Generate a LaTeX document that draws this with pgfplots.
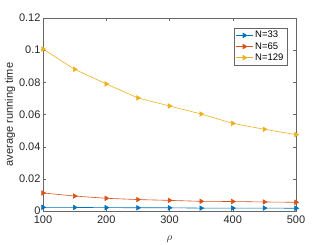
\documentclass[border=0pt]{standalone}
\usepackage{fontspec}
\setmainfont{Liberation Sans}
\usepackage{pgfplots}
\pgfplotsset{compat=1.18}
\definecolor{c1}{rgb}{0,0.447,0.741}
\definecolor{c2}{rgb}{0.85,0.325,0.098}
\definecolor{c3}{rgb}{0.929,0.694,0.125}
\begin{document}
\begin{tikzpicture}
\path[use as bounding box] (-43pt,-34pt) rectangle (284pt,211pt);
\begin{axis}[
  scale only axis, width=253pt, height=193pt,
  xmin=100, xmax=500, ymin=0, ymax=0.12,
  xtick={100,200,300,400,500},
  ytick={0,0.02,0.04,0.06,0.08,0.1,0.12},
  yticklabel style={/pgf/number format/fixed,/pgf/number format/precision=2, xshift=1pt},
  scaled y ticks=false,
  /pgf/number format/assume math mode=true,
  tick align=inside, tick pos=both,
  major tick length=3pt,
  axis line style={black!60, line width=0.4pt},
  tick style={black!60},
  ticklabel style={font=\fontsize{11}{13}\selectfont, text=black!85},
  xticklabel style={yshift=-1.5pt},
  xlabel={$\rho$}, ylabel={average running time},
  label style={font=\fontsize{11}{13}\selectfont, text=black!85},
  xlabel style={yshift=-5pt},
  ylabel style={yshift=-3pt},
  legend style={at={(0.965,0.95)}, anchor=north east, font=\fontsize{9.5}{10.5}\selectfont, draw=black!60, line width=0.4pt, inner sep=1.5pt, row sep=-1pt},
  legend cell align=left,
  every axis plot/.append style={line width=0.6pt, mark=triangle*, mark size=2.6pt},
  every mark/.append style={rotate=-90, solid},
]
\addplot[color=c1, mark options={fill=c1, rotate=-90}] coordinates {(100,0.0023) (150,0.0022) (200,0.0021) (250,0.0020) (300,0.0020) (350,0.0018) (400,0.0018) (450,0.0018) (500,0.0017)};
\addlegendentry{N=33}
\addplot[color=c2, mark options={fill=c2, rotate=-90}] coordinates {(100,0.0112) (150,0.0093) (200,0.0079) (250,0.0071) (300,0.0066) (350,0.0060) (400,0.0059) (450,0.0056) (500,0.0054)};
\addlegendentry{N=65}
\addplot[color=c3, mark options={fill=c3, rotate=-90}] coordinates {(100,0.1007) (150,0.0881) (200,0.0790) (250,0.0703) (300,0.0653) (350,0.0603) (400,0.0545) (450,0.0508) (500,0.0475)};
\addlegendentry{N=129}
\end{axis}
\end{tikzpicture}
\end{document}
